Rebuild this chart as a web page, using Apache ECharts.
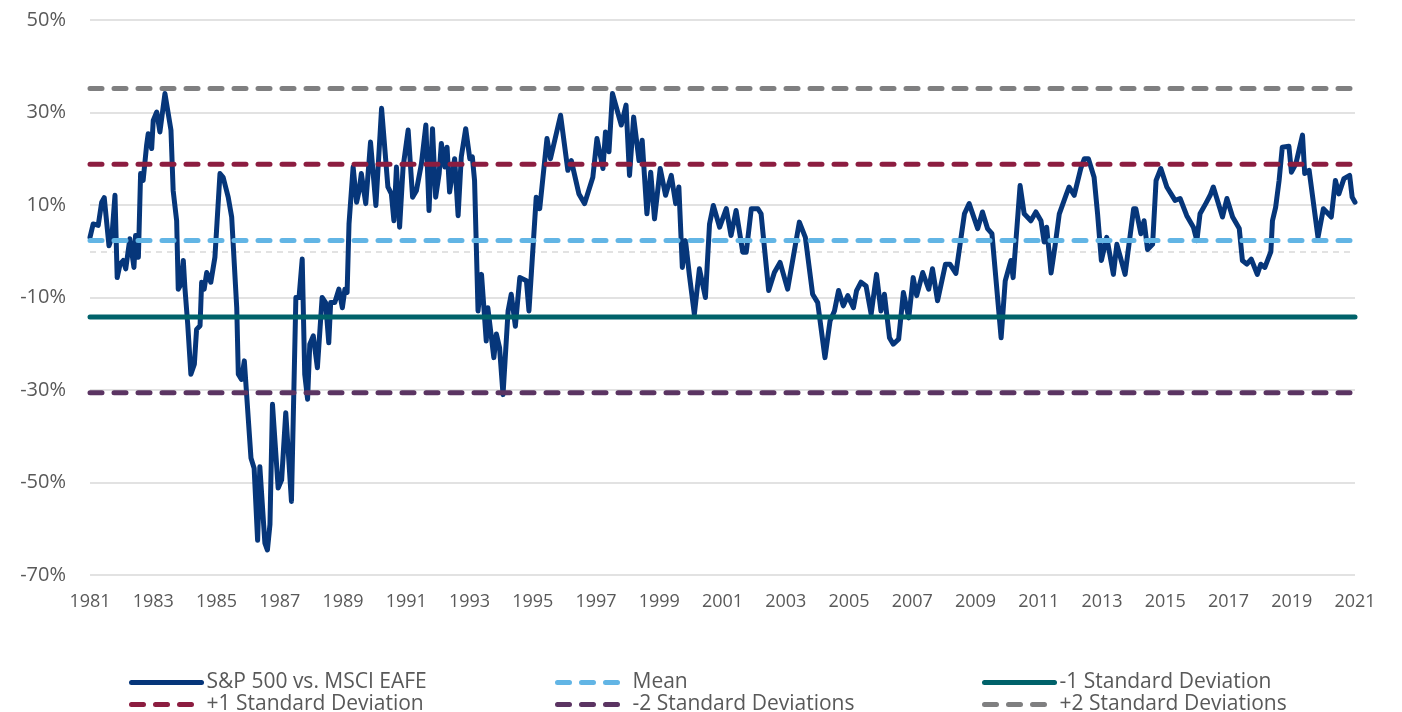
<!DOCTYPE html>
<html>
<head>
<meta charset="utf-8">
<script src="https://cdn.jsdelivr.net/npm/echarts@6/dist/echarts.min.js"></script>
<style>
  html, body { margin: 0; padding: 0; background: #fff; }
  #chart { width: 1402px; height: 712px; }
</style>
</head>
<body>
<div id="chart"></div>
<script>
// x positions as decimal years
var years = [
  1981.00,1981.10,1981.26,1981.37,1981.45,1981.60,1981.69,1981.79,1981.86,1981.95,
  1982.05,1982.13,1982.26,1982.39,1982.44,1982.53,1982.60,1982.68,1982.79,1982.84,
  1982.95,1983.00,1983.11,1983.21,1983.37,1983.56,1983.63,1983.74,1983.79,1983.88,
  1983.95,1984.00,1984.09,1984.19,1984.30,1984.37,1984.48,1984.53,1984.61,1984.69,
  1984.82,1984.95,1985.11,1985.21,1985.37,1985.48,1985.64,1985.69,1985.79,1985.88,
  1986.09,1986.19,1986.30,1986.37,1986.53,1986.61,1986.69,1986.77,1986.95,1987.06,
  1987.19,1987.37,1987.51,1987.61,1987.71,1987.79,1987.88,1987.95,1988.06,1988.19,
  1988.34,1988.45,1988.55,1988.61,1988.74,1988.87,1988.98,1989.06,1989.13,1989.19,
  1989.32,1989.43,1989.51,1989.58,1989.72,1989.87,1990.04,1990.22,1990.42,1990.53,
  1990.61,1990.69,1990.79,1990.90,1991.06,1991.20,1991.32,1991.48,1991.62,1991.72,
  1991.83,1991.93,1992.04,1992.11,1992.22,1992.29,1992.37,1992.53,1992.64,1992.74,
  1992.88,1993.01,1993.09,1993.16,1993.27,1993.38,1993.53,1993.58,1993.77,1993.85,
  1993.95,1994.06,1994.22,1994.32,1994.45,1994.59,1994.80,1994.88,1995.11,1995.22,
  1995.45,1995.56,1995.88,1996.11,1996.22,1996.46,1996.64,1996.90,1997.03,1997.22,
  1997.30,1997.41,1997.52,1997.80,1997.95,1998.06,1998.19,1998.36,1998.46,1998.61,
  1998.73,1998.85,1999.03,1999.20,1999.38,1999.52,1999.62,1999.73,1999.83,1999.95,
  2000.11,2000.27,2000.46,2000.59,2000.71,2000.91,2001.12,2001.27,2001.43,2001.64,
  2001.75,2001.91,2002.12,2002.22,2002.46,2002.64,2002.82,2003.06,2003.43,2003.62,
  2003.85,2004.01,2004.24,2004.40,2004.54,2004.67,2004.82,2004.96,2005.14,2005.24,
  2005.38,2005.54,2005.70,2005.87,2006.01,2006.12,2006.28,2006.40,2006.57,2006.72,
  2006.89,2007.03,2007.14,2007.33,2007.52,2007.64,2007.80,2008.05,2008.19,2008.38,
  2008.65,2008.80,2009.07,2009.22,2009.38,2009.52,2009.81,2009.94,2010.12,2010.19,
  2010.41,2010.54,2010.75,2010.91,2011.07,2011.17,2011.25,2011.39,2011.52,2011.65,
  2011.86,2011.96,2012.12,2012.33,2012.44,2012.57,2012.75,2012.86,2012.98,2013.15,
  2013.36,2013.47,2013.73,2014.00,2014.07,2014.23,2014.33,2014.44,2014.60,2014.71,
  2014.86,2015.05,2015.31,2015.47,2015.68,2015.89,2016.00,2016.10,2016.28,2016.42,
  2016.52,2016.81,2016.95,2017.13,2017.34,2017.44,2017.58,2017.72,2017.91,2018.02,
  2018.15,2018.34,2018.39,2018.49,2018.60,2018.70,2018.91,2018.99,2019.13,2019.34,
  2019.41,2019.55,2019.83,2020.00,2020.25,2020.38,2020.49,2020.65,2020.83,2020.91,
  2021.00
];

// S&P 500 vs. MSCI EAFE relative performance (%)
var spread = [
  3.0,5.9,5.6,10.6,11.6,1.2,3.0,12.1,-5.7,-2.8,
  -2.0,-3.8,2.7,-3.5,3.4,-1.3,16.8,15.3,22.9,25.4,
  22.2,28.3,30.1,25.8,34.1,26.2,13.1,6.6,-8.2,-7.1,
  -2.0,-7.8,-15.8,-26.6,-24.4,-16.9,-16.1,-6.7,-8.2,-4.6,
  -6.7,-1.3,16.8,16.0,11.7,7.4,-12.2,-26.6,-27.7,-23.7,
  -44.7,-46.9,-62.5,-46.6,-63.1,-64.6,-59.1,-33.1,-51.2,-49.4,
  -34.9,-54.1,-10.0,-10.0,-1.7,-26.6,-32.0,-20.1,-18.3,-25.2,
  -10.0,-11.1,-19.8,-11.1,-11.1,-8.2,-12.2,-8.2,-8.9,5.9,
  18.2,10.6,13.1,16.8,10.3,23.6,9.9,30.9,13.9,12.4,
  6.6,18.2,5.2,18.2,26.2,11.7,13.1,18.9,27.3,8.8,
  26.5,11.7,16.8,23.3,18.2,22.5,12.8,20.0,7.7,20.4,
  26.5,20.0,20.4,15.3,-12.9,-5.0,-19.4,-12.2,-23.0,-17.9,
  -20.8,-31.0,-12.9,-9.3,-16.2,-5.7,-6.4,-12.9,11.7,9.2,
  24.4,20.0,29.4,17.5,19.6,12.4,10.3,16.0,24.4,17.9,
  25.8,21.5,34.1,27.3,31.6,16.4,29.0,19.6,24.0,8.1,
  17.1,7.0,17.9,12.1,16.4,10.3,13.9,-3.5,2.3,-5.0,
  -13.6,-3.8,-10.0,5.9,9.9,5.2,9.2,3.4,8.8,-0.2,
  -0.2,9.2,9.2,8.1,-8.5,-4.6,-2.4,-8.2,6.3,3.0,
  -9.3,-11.1,-23.0,-15.1,-12.9,-8.5,-11.8,-9.6,-12.2,-8.5,
  -6.7,-7.5,-13.6,-5.0,-12.9,-9.3,-18.7,-20.1,-19.0,-8.9,
  -14.4,-5.7,-9.6,-4.6,-8.2,-3.8,-10.7,-2.8,-2.8,-4.8,
  8.1,10.3,4.9,8.5,4.9,3.8,-18.7,-6.4,-2.0,-5.7,
  14.2,8.1,6.6,8.5,6.6,2.0,5.2,-4.7,1.4,8.1,
  12.1,13.9,12.1,17.9,20.0,20.0,16.0,8.1,-2.0,3.0,
  -5.0,1.5,-5.0,9.2,9.2,3.8,6.6,0.4,1.5,15.3,
  17.9,13.9,11.0,11.4,7.7,5.2,2.3,8.1,10.3,12.1,
  13.9,7.4,11.4,7.4,4.9,-2.0,-2.8,-1.7,-5.0,-2.8,
  -3.5,-0.1,6.6,9.5,15.3,22.5,22.7,17.1,18.9,25.1,
  16.8,17.5,3.0,9.2,7.4,15.3,12.4,15.7,16.4,11.7,
  10.6
];

// reference levels (%)
var refNames = ['Mean', '-1 Standard Deviation', '+1 Standard Deviation', '-2 Standard Deviations', '+2 Standard Deviations'];
var refLevels = [2.3, -14.2, 18.8, -30.6, 35.2];
var refColors = ['#62b5e5', '#00626a', '#8c1d40', '#5b3462', '#7f7f80'];
var refSolid = [false, true, false, false, false];

var startYear = 1981;
var endYear = 2021;

var FONT = "'Open Sans', 'Noto Sans', sans-serif";

var myChart = echarts.init(document.getElementById('chart'));

var mainData = [];
for (var i = 0; i < years.length; i++) {
  mainData.push([years[i], spread[i]]);
}

var seriesList = [{
  name: 'S&P 500 vs. MSCI EAFE',
  type: 'line',
  data: mainData,
  symbol: 'none',
  smooth: false,
  lineStyle: { color: '#06367a', width: 5, join: 'round', cap: 'round' },
  itemStyle: { color: '#06367a' },
  markLine: {
    silent: true,
    symbol: 'none',
    label: { show: false },
    lineStyle: { color: '#d9d9d9', type: [6, 5], width: 1.5 },
    data: [{ yAxis: 0 }],
    z: 1
  },
  z: 3
}];

for (var j = 0; j < refNames.length; j++) {
  seriesList.push({
    name: refNames[j],
    type: 'line',
    data: [[startYear, refLevels[j]], [endYear, refLevels[j]]],
    symbol: 'none',
    lineStyle: {
      color: refColors[j],
      width: 5,
      cap: 'round',
      type: refSolid[j] ? 'solid' : [12, 12]
    },
    itemStyle: { color: refColors[j] },
    z: 4
  });
}

// one legend box per entry: 3 columns x 2 rows
function makeLegend(left, top, name) {
  return {
    left: left,
    top: top,
    padding: 0,
    itemWidth: 70,
    itemHeight: 14,
    itemStyle: { opacity: 0 },
    lineStyle: { width: 5, cap: 'round' },
    textStyle: { color: '#595959', fontSize: 21, fontFamily: FONT, lineHeight: 20 },
    data: [name]
  };
}

myChart.setOption({
  animation: false,
  backgroundColor: '#ffffff',
  grid: { left: 90, right: 47, top: 20, bottom: 137, containLabel: false },
  legend: [
    makeLegend(129, 672, 'S&P 500 vs. MSCI EAFE'),
    makeLegend(555, 672, 'Mean'),
    makeLegend(982, 672, '-1 Standard Deviation'),
    makeLegend(129, 694, '+1 Standard Deviation'),
    makeLegend(555, 694, '-2 Standard Deviations'),
    makeLegend(982, 694, '+2 Standard Deviations')
  ],
  xAxis: {
    type: 'value',
    min: startYear,
    max: endYear,
    interval: 2,
    axisLine: { show: false },
    axisTick: { show: false },
    splitLine: { show: false },
    axisLabel: {
      color: '#595959',
      fontSize: 18,
      fontFamily: FONT,
      margin: 18,
      formatter: function (v) { return String(v); }
    }
  },
  yAxis: {
    type: 'value',
    min: -70,
    max: 50,
    interval: 20,
    axisLine: { show: false },
    axisTick: { show: false },
    splitLine: { lineStyle: { color: '#d9d9d9', width: 1.5 } },
    axisLabel: {
      color: '#595959',
      fontSize: 20,
      fontFamily: FONT,
      margin: 24,
      formatter: function (v) { return v + '%'; }
    }
  },
  series: seriesList
});

window.onresize = function () {
  myChart.resize();
};
</script>
</body>
</html>
